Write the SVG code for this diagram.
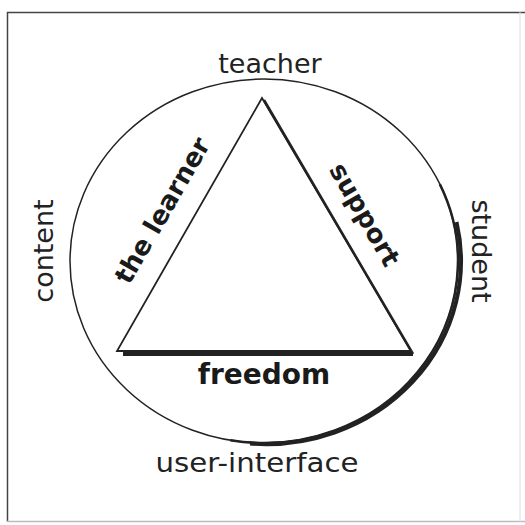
<svg xmlns="http://www.w3.org/2000/svg" width="525" height="525" viewBox="0 0 525 525">
<style>
.lbl{font-family:"DejaVu Sans","Verdana",sans-serif;font-size:27px;fill:#222;text-anchor:middle}
.bold{font-family:"DejaVu Sans","Verdana",sans-serif;font-size:26px;font-weight:bold;fill:#1a1a1a;text-anchor:middle}
.ln{fill:none;stroke:#222;stroke-linejoin:miter}
</style>
<rect x="0" y="0" width="525" height="525" fill="#fff"/>
<g id="frame">
<line x1="7" y1="12.5" x2="525" y2="12.5" stroke="#444" stroke-width="1.5"/>
<line x1="7.5" y1="12" x2="7.5" y2="522" stroke="#444" stroke-width="1.5"/>
<line x1="7" y1="521.5" x2="525" y2="521.5" stroke="#bbb" stroke-width="1.5"/>
<line x1="520" y1="12" x2="520" y2="522" stroke="#ddd" stroke-width="1"/>
</g>
<g id="circle">
<ellipse class="ln" cx="264" cy="261" rx="194" ry="182" stroke-width="1.5"/>
<path class="ln" d="M439.8,184.1 A194,182 0 0 1 230.3,440.2" stroke-width="2.5" stroke="#333"/>
<path class="ln" d="M456.5,222 A195,183 0 0 1 250,443.5" stroke-width="4" stroke="#333"/>
</g>
<g id="triangle">
<path class="ln" d="M262,98 L117,351 L411,351 Z" stroke-width="1.8"/>
<line x1="123" y1="354" x2="413" y2="354" stroke="#222" stroke-width="4"/>
<line x1="264" y1="100" x2="413" y2="354" stroke="#222" stroke-width="2.5"/>
</g>
<g id="labels">
<text class="lbl" x="270" y="73">teacher</text>
<text class="lbl" x="257" y="472" textLength="203" lengthAdjust="spacingAndGlyphs">user-interface</text>
<text class="lbl" transform="translate(53,251) rotate(-90)">content</text>
<text class="lbl" transform="translate(472,251) rotate(90)">student</text>
<text class="bold" x="264" y="384" style="font-size:28px">freedom</text>
<text class="bold" transform="translate(170,215) rotate(-60)">the learner</text>
<text class="bold" transform="translate(357,219) rotate(60)">support</text>
</g>
</svg>
